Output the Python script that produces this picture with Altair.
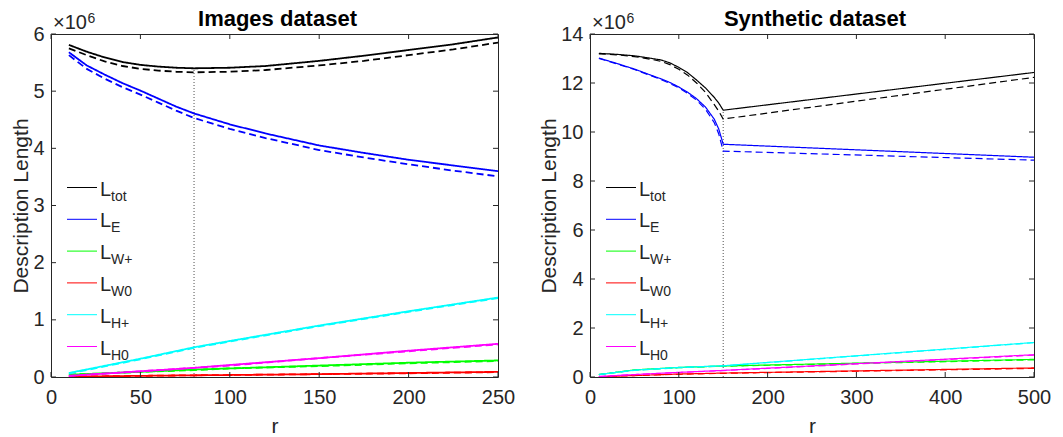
import altair as alt
import pandas as pd

FONT = "Liberation Sans"
AX = "#262626"

SERIES = ["tot", "E", "W+", "W0", "H+", "H0"]
COLORS = ["#000000", "#0000ff", "#00ff00", "#ff0000", "#00ffff", "#ff00ff"]

# ---------------- Images dataset ----------------
r_img = [10, 20, 30, 40, 50, 60, 70, 80, 100, 120, 150, 175, 200, 225, 250]
img_tot_solid = [5.81, 5.69, 5.59, 5.51, 5.46, 5.43, 5.41, 5.40, 5.41, 5.44, 5.53, 5.62, 5.72, 5.82, 5.94]
img_tot_dash = [5.75, 5.63, 5.52, 5.44, 5.39, 5.36, 5.34, 5.33, 5.34, 5.37, 5.45, 5.53, 5.63, 5.73, 5.85]
img_E_solid = [5.68, 5.45, 5.29, 5.14, 5.01, 4.87, 4.73, 4.61, 4.42, 4.26, 4.05, 3.92, 3.80, 3.70, 3.60]
img_E_dash = [5.63, 5.39, 5.22, 5.07, 4.94, 4.80, 4.66, 4.53, 4.34, 4.18, 3.97, 3.84, 3.72, 3.61, 3.51]

r_img_low = [10, 50, 80, 100, 150, 200, 250]
img_Wp_solid = [0.04, 0.09, 0.13, 0.15, 0.20, 0.25, 0.29]
img_Wp_dash = [0.04, 0.09, 0.12, 0.15, 0.19, 0.24, 0.28]
img_W0_solid = [0.005, 0.02, 0.03, 0.035, 0.05, 0.07, 0.09]
img_W0_dash = [0.005, 0.02, 0.03, 0.035, 0.05, 0.065, 0.085]
img_Hp_solid = [0.07, 0.32, 0.52, 0.63, 0.90, 1.15, 1.39]
img_Hp_dash = [0.06, 0.31, 0.51, 0.62, 0.89, 1.14, 1.38]
img_H0_solid = [0.02, 0.10, 0.16, 0.21, 0.33, 0.46, 0.58]
img_H0_dash = [0.02, 0.10, 0.16, 0.20, 0.33, 0.45, 0.57]

img_opt_r = 80
img_opt_top = 5.40

# ---------------- Synthetic dataset ----------------
r_syn = [10, 30, 50, 70, 80, 90, 100, 110, 120, 130, 140, 145, 150, 500]
syn_tot_solid = [13.21, 13.17, 13.11, 13.00, 12.94, 12.82, 12.64, 12.42, 12.12, 11.80, 11.41, 11.18, 10.89, 12.43]
syn_tot_dash = [13.19, 13.15, 13.08, 12.96, 12.88, 12.75, 12.56, 12.32, 12.00, 11.62, 11.12, 10.85, 10.53, 12.23]
syn_E_solid = [13.02, 12.80, 12.57, 12.30, 12.17, 12.02, 11.84, 11.62, 11.36, 11.02, 10.52, 10.12, 9.50, 8.97]
syn_E_dash = [13.00, 12.78, 12.55, 12.28, 12.14, 11.98, 11.80, 11.57, 11.30, 10.93, 10.38, 9.92, 9.22, 8.85]

r_syn_low = [10, 50, 100, 150, 500]
syn_Wp_solid = [0.10, 0.29, 0.39, 0.45, 0.72]
syn_Wp_dash = [0.10, 0.28, 0.38, 0.44, 0.70]
syn_W0_solid = [0.01, 0.06, 0.12, 0.16, 0.37]
syn_W0_dash = [0.01, 0.06, 0.11, 0.15, 0.35]
syn_Hp_solid = [0.10, 0.28, 0.39, 0.46, 1.41]
syn_Hp_dash = [0.10, 0.27, 0.38, 0.45, 1.40]
syn_H0_solid = [0.02, 0.10, 0.19, 0.27, 0.91]
syn_H0_dash = [0.02, 0.10, 0.18, 0.26, 0.89]

syn_opt_r = 150
syn_opt_top = 10.89

img_xticks = [0, 50, 100, 150, 200, 250]
img_yticks = [0, 1, 2, 3, 4, 5, 6]
syn_xticks = [0, 100, 200, 300, 400, 500]
syn_yticks = [0, 2, 4, 6, 8, 10, 12, 14]


def build(entries):
    rows = []
    for name, style, rs, vals in entries:
        for r, v in zip(rs, vals):
            rows.append({"r": r, "value": v, "series": name, "style": style})
    return pd.DataFrame(rows)


img_df = build([
    ("tot", "solid", r_img, img_tot_solid), ("tot", "dashed", r_img, img_tot_dash),
    ("E", "solid", r_img, img_E_solid), ("E", "dashed", r_img, img_E_dash),
    ("W+", "solid", r_img_low, img_Wp_solid), ("W+", "dashed", r_img_low, img_Wp_dash),
    ("W0", "solid", r_img_low, img_W0_solid), ("W0", "dashed", r_img_low, img_W0_dash),
    ("H+", "solid", r_img_low, img_Hp_solid), ("H+", "dashed", r_img_low, img_Hp_dash),
    ("H0", "solid", r_img_low, img_H0_solid), ("H0", "dashed", r_img_low, img_H0_dash),
])
syn_df = build([
    ("tot", "solid", r_syn, syn_tot_solid), ("tot", "dashed", r_syn, syn_tot_dash),
    ("E", "solid", r_syn, syn_E_solid), ("E", "dashed", r_syn, syn_E_dash),
    ("W+", "solid", r_syn_low, syn_Wp_solid), ("W+", "dashed", r_syn_low, syn_Wp_dash),
    ("W0", "solid", r_syn_low, syn_W0_solid), ("W0", "dashed", r_syn_low, syn_W0_dash),
    ("H+", "solid", r_syn_low, syn_Hp_solid), ("H+", "dashed", r_syn_low, syn_Hp_dash),
    ("H0", "solid", r_syn_low, syn_H0_solid), ("H0", "dashed", r_syn_low, syn_H0_dash),
])

DUMMY = pd.DataFrame({"a": [0]})


def make_panel(title, df, xdom, ydom, xticks, yticks, opt_r, opt_top, W, H, lw, dash):
    xsc = alt.Scale(domain=xdom, nice=False, zero=False)
    ysc = alt.Scale(domain=ydom, nice=False, zero=False)

    def X():
        return alt.X("r:Q", scale=xsc, axis=alt.Axis(values=xticks, title="r", labelFlush=False))

    def Y():
        return alt.Y("value:Q", scale=ysc, axis=alt.Axis(values=yticks, title="Description Length"))

    layers = []
    opt_df = pd.DataFrame({"r": [opt_r], "value": [0.0], "value2": [opt_top]})
    layers.append(alt.Chart(opt_df).mark_rule(color="#505050", strokeDash=[1, 2], strokeWidth=1).encode(
        x=X(), y=Y(), y2="value2:Q"))
    layers.append(alt.Chart(df).mark_line(strokeWidth=lw, clip=True).encode(
        x=X(), y=Y(),
        color=alt.Color("series:N", scale=alt.Scale(domain=SERIES, range=COLORS), legend=None),
        strokeDash=alt.StrokeDash("style:N", scale=alt.Scale(domain=["solid", "dashed"], range=[[1, 0], dash]), legend=None),
    ))
    yt = pd.DataFrame({"value": yticks})
    xt = pd.DataFrame({"r": xticks})
    layers.append(alt.Chart(yt).mark_rule(color=AX, strokeWidth=1).encode(y=Y(), x=alt.value(0), x2=alt.value(5)))
    layers.append(alt.Chart(yt).mark_rule(color=AX, strokeWidth=1).encode(y=Y(), x=alt.value(W - 5), x2=alt.value(W)))
    layers.append(alt.Chart(xt).mark_rule(color=AX, strokeWidth=1).encode(x=X(), y=alt.value(H - 5), y2=alt.value(H)))
    layers.append(alt.Chart(xt).mark_rule(color=AX, strokeWidth=1).encode(x=X(), y=alt.value(0), y2=alt.value(5)))

    # legend (decoration)
    for i, (s, c) in enumerate(zip(SERIES, COLORS)):
        yl = 153.5 + 31.8 * i
        layers.append(alt.Chart(DUMMY).mark_rule(color=c, strokeWidth=1).encode(
            x=alt.value(16), x2=alt.value(46), y=alt.value(yl)))
        layers.append(alt.Chart(DUMMY).mark_text(text="L", font=FONT, fontSize=20, color=AX, align="left",
                                                 baseline="alphabetic").encode(x=alt.value(49), y=alt.value(yl + 8)))
        layers.append(alt.Chart(DUMMY).mark_text(text=s, font=FONT, fontSize=14, color=AX, align="left",
                                                 baseline="alphabetic").encode(x=alt.value(60), y=alt.value(yl + 13)))

    layers.append(alt.Chart(DUMMY).mark_text(text=title, font=FONT, fontSize=22, fontWeight="bold", color="#000000",
                                             align="center", baseline="alphabetic").encode(
        x=alt.value(W / 2 + 3), y=alt.value(-8)))
    layers.append(alt.Chart(DUMMY).mark_text(text="×10", font=FONT, fontSize=20, color=AX, align="left",
                                             baseline="alphabetic").encode(x=alt.value(2), y=alt.value(-5)))
    layers.append(alt.Chart(DUMMY).mark_text(text="6", font=FONT, fontSize=14, color=AX, align="left",
                                             baseline="alphabetic").encode(x=alt.value(36.5), y=alt.value(-11)))
    return alt.layer(*layers).properties(width=W, height=H)


left = make_panel("Images dataset", img_df, [0, 250], [0, 6], img_xticks, img_yticks,
                  img_opt_r, img_opt_top, 447, 343, 1.8, [7, 4])
right = make_panel("Synthetic dataset", syn_df, [0, 500], [0, 14], syn_xticks, syn_yticks,
                   syn_opt_r, syn_opt_top, 444, 343, 1.2, [6, 3])

chart = alt.hconcat(left, right, spacing=92, bounds="flush").properties(
    padding={"left": 10, "top": 7, "right": 0, "bottom": 0}
).configure_view(stroke=AX, strokeWidth=1).configure_axis(
    grid=False, ticks=False, tickSize=0, domain=False,
    labelFont=FONT, labelFontSize=20, labelColor=AX,
    titleFont=FONT, titleFontSize=21, titleFontWeight="normal", titleColor=AX,
).configure_axisY(labelPadding=7, titlePadding=1).configure_axisX(labelPadding=10, titlePadding=8)

chart.save("out.html", embed_options={"renderer": "svg", "actions": False})
